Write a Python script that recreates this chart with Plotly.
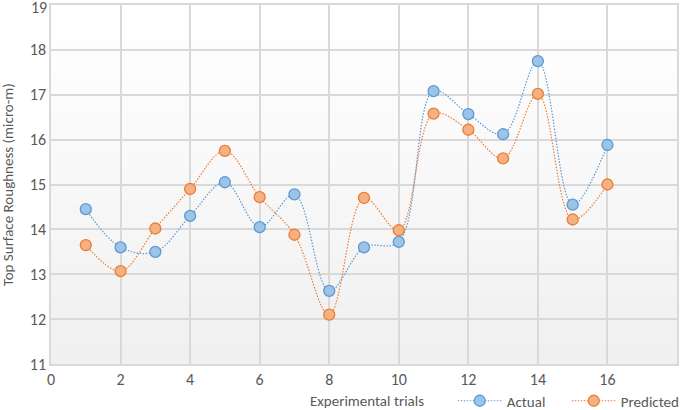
import plotly.graph_objects as go

trials = list(range(1, 17))
actual = [14.45, 13.6, 13.5, 14.3, 15.05, 14.05, 14.78, 12.63, 13.6, 13.72, 17.08, 16.57, 16.12, 17.75, 14.55, 15.88]
predicted = [13.65, 13.07, 14.02, 14.9, 15.75, 14.72, 13.88, 12.1, 14.7, 13.98, 16.58, 16.22, 15.58, 17.02, 14.22, 15.0]
x_ticks = [0, 2, 4, 6, 8, 10, 12, 14, 16, 18]
y_ticks = [11, 12, 13, 14, 15, 16, 17, 18, 19]

font_family = "Carlito, Lato, Open Sans, sans-serif"
grey = "#595959"

fig = go.Figure()
fig.add_trace(go.Scatter(
    x=trials, y=actual, name="Actual", mode="lines+markers",
    line=dict(color="#5b9bd5", width=1.2, dash="1.5px,1.5px", shape="spline", smoothing=1.0),
    marker=dict(size=11, color="#9dc3e6", line=dict(color="#5b9bd5", width=1.3)),
))
fig.add_trace(go.Scatter(
    x=trials, y=predicted, name="Predicted", mode="lines+markers",
    line=dict(color="#ed7d31", width=1.2, dash="1.5px,1.5px", shape="spline", smoothing=1.0),
    marker=dict(size=11, color="#f4b183", line=dict(color="#ed7d31", width=1.3)),
))

# soft vertical gradient behind plot area
n = 20
shapes = []
for i in range(n):
    t = i / (n - 1)
    c = int(round(255 - t * (255 - 240)))
    shapes.append(dict(type="rect", xref="x domain", yref="y domain",
                       x0=0, x1=1, y0=1 - (i + 1) / n, y1=1 - i / n,
                       fillcolor=f"rgb({c},{c},{c})", line=dict(width=0), layer="below"))

fig.update_layout(
    width=685, height=410,
    margin=dict(l=51, r=8, t=5, b=46, autoexpand=False),
    paper_bgcolor="white",
    plot_bgcolor="white",
    font=dict(family=font_family, size=14, color=grey),
    shapes=shapes,
    showlegend=True,
    legend=dict(orientation="h", xref="container", yref="container",
                x=0.661, xanchor="left", y=0.022, yanchor="middle",
                font=dict(size=15, color=grey), bgcolor="rgba(0,0,0,0)",
                itemwidth=44, entrywidth=55, tracegroupgap=0),
    xaxis=dict(range=[0, 18], tickmode="array", tickvals=x_ticks, showgrid=True,
               gridcolor="#d9d9d9", gridwidth=1.5, automargin=False,
               zeroline=False, showline=True, linecolor="#d9d9d9", linewidth=1.5, mirror=True,
               ticks="", tickfont=dict(size=16, color=grey), layer="below traces"),
    yaxis=dict(range=[11, 19], tickmode="array", tickvals=y_ticks, showgrid=True,
               gridcolor="#d9d9d9", gridwidth=1.5, automargin=False,
               zeroline=False, showline=True, linecolor="#d9d9d9", linewidth=1.5, mirror=True,
               ticks="", tickfont=dict(size=16, color=grey), layer="below traces"),
    annotations=[
        dict(text="Experimental trials", xref="paper", yref="paper", x=0.505, y=-0.103,
             xanchor="center", yanchor="middle", showarrow=False, font=dict(size=15, color=grey)),
        dict(text="Top Surface Roughness (micro-m)", xref="paper", yref="paper", x=-0.069, y=0.5,
             xanchor="center", yanchor="middle", textangle=-90, showarrow=False,
             font=dict(size=15, color=grey)),
        dict(text=str(y_ticks[-1]), xref="paper", yref="y", x=0, y=y_ticks[-1], xanchor="right",
             yanchor="middle", xshift=-2, yshift=-2, showarrow=False, font=dict(size=16, color=grey)),
    ],
)

fig.write_html("out.html", config={"displayModeBar": False},
               post_script="document.body.style.margin='0';document.body.style.overflow='hidden';")
